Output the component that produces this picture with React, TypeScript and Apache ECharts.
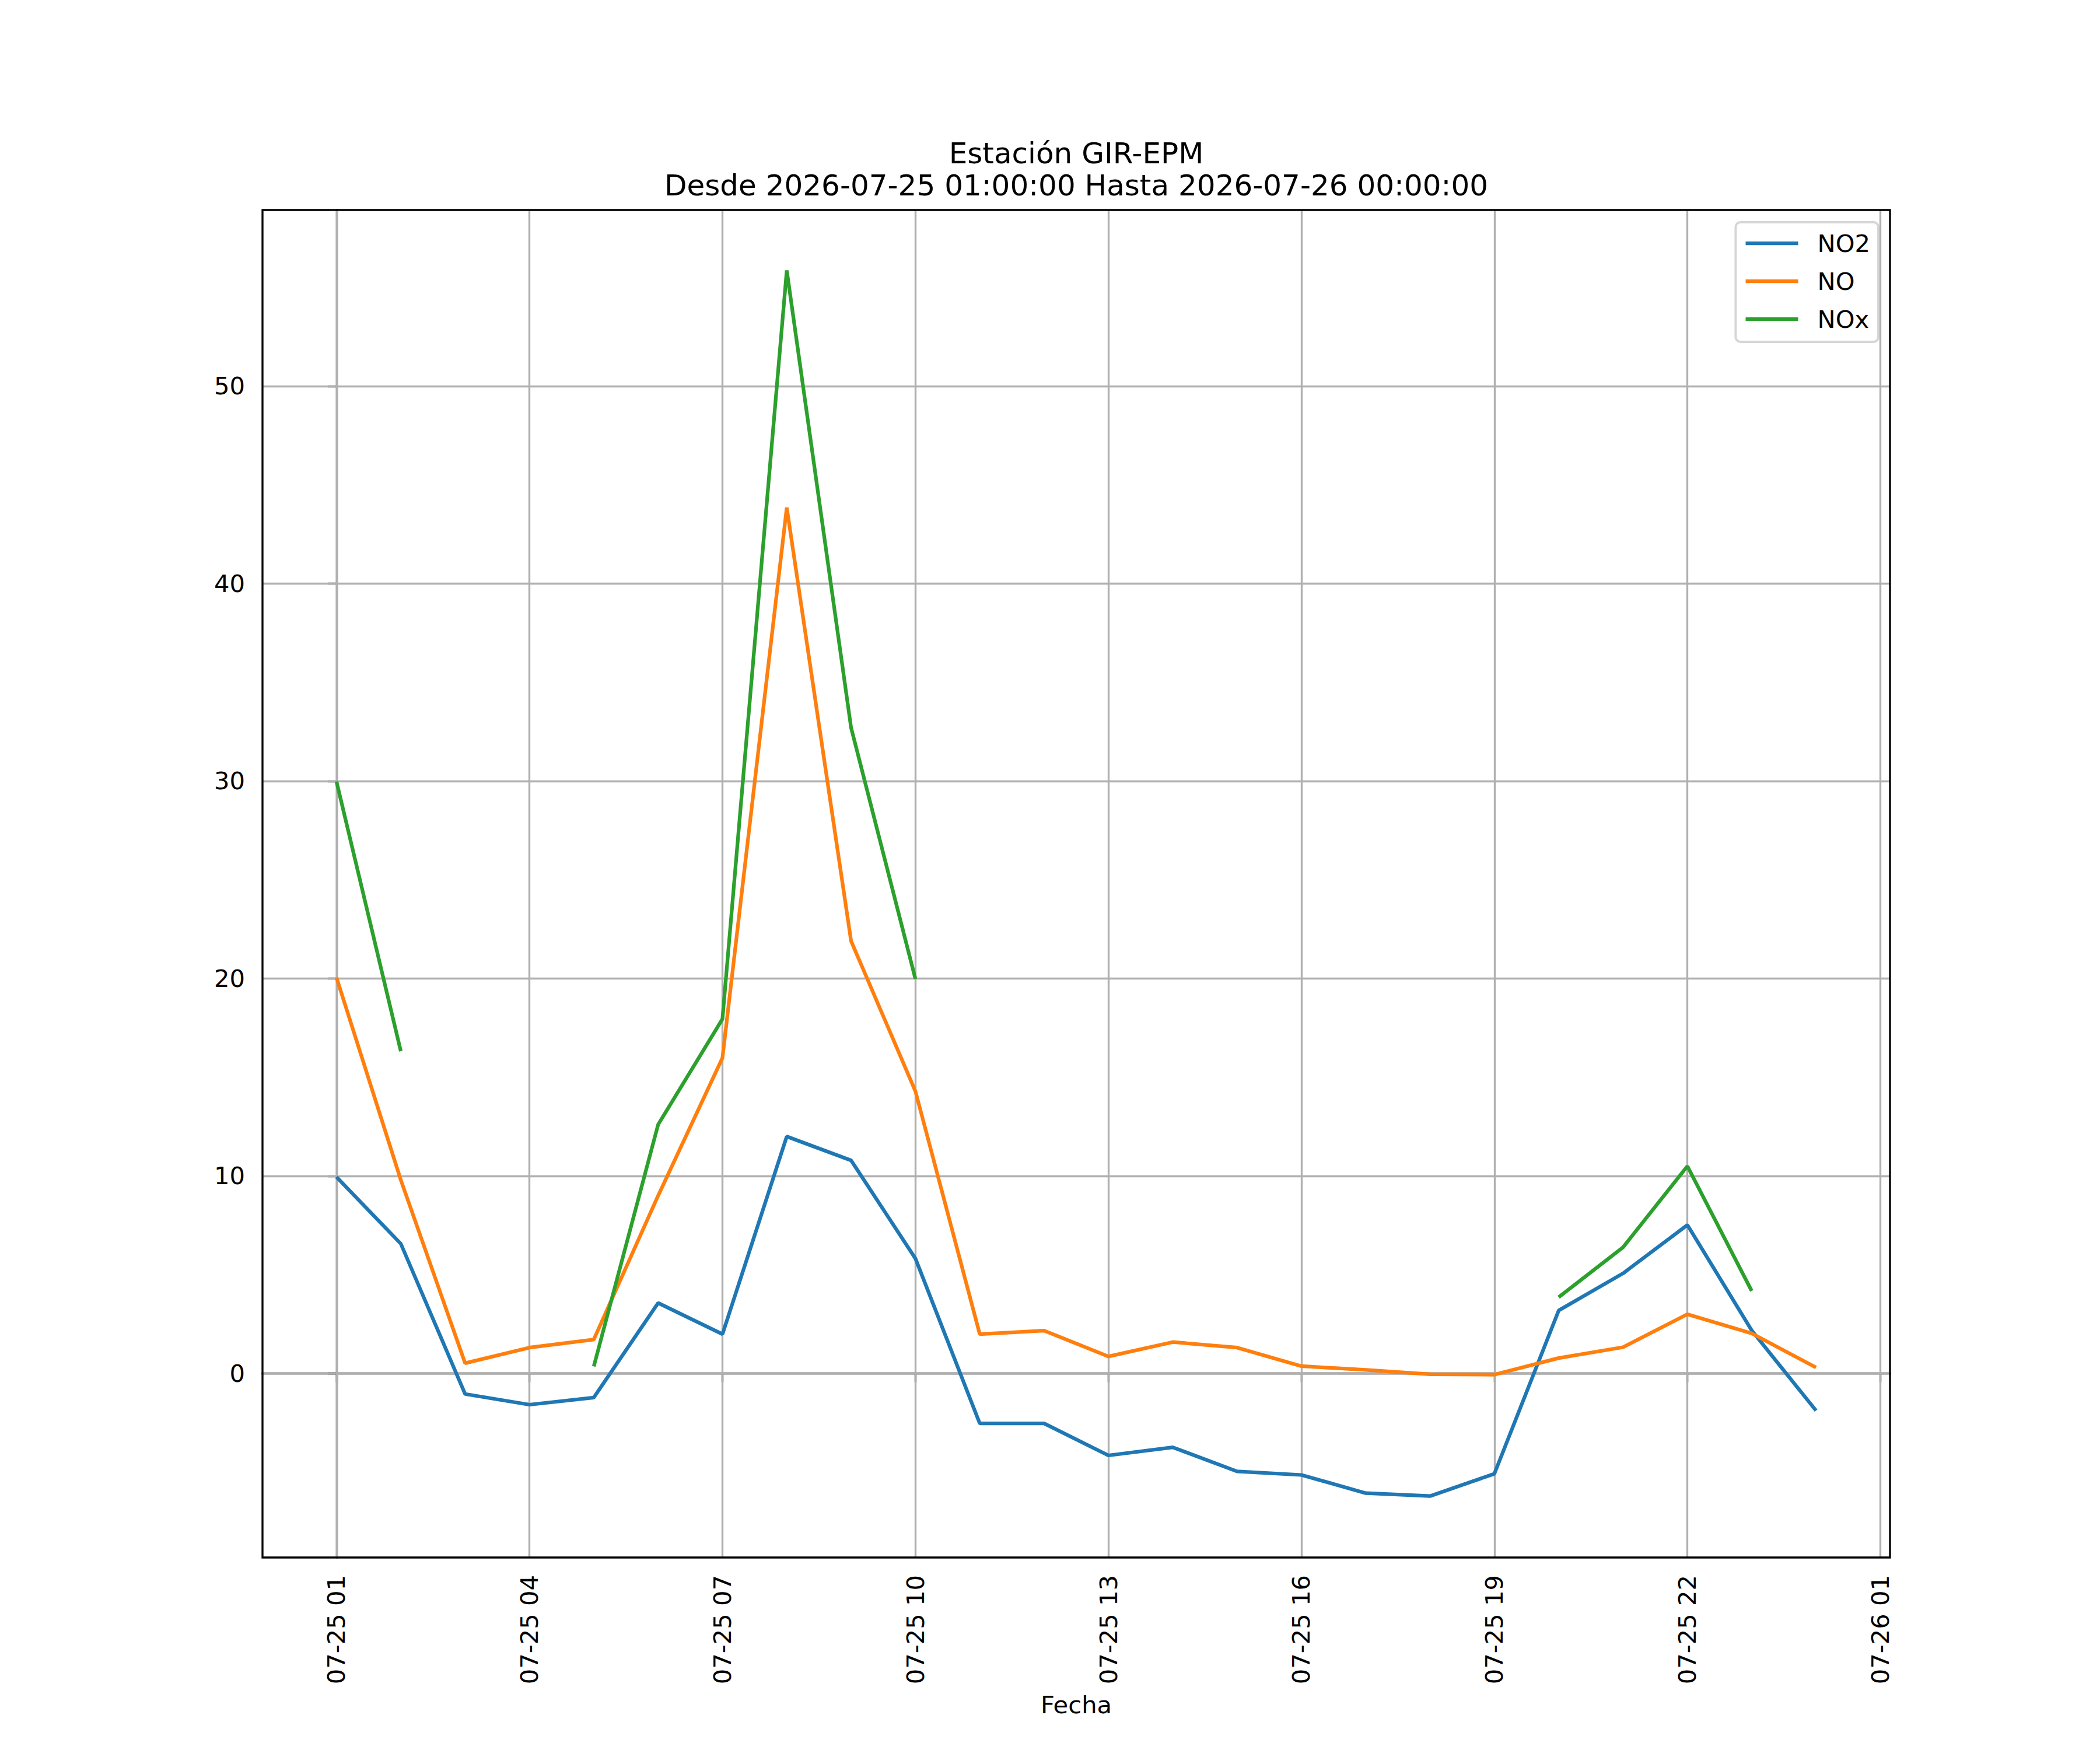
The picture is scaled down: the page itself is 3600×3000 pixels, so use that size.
import { useEffect, useRef } from 'react';
import * as echarts from 'echarts';

// hourly timestamps, 2026-07-25 01:00 .. 2026-07-26 00:00
const HOURS = [
  '07-25 01', '07-25 02', '07-25 03', '07-25 04', '07-25 05', '07-25 06',
  '07-25 07', '07-25 08', '07-25 09', '07-25 10', '07-25 11', '07-25 12',
  '07-25 13', '07-25 14', '07-25 15', '07-25 16', '07-25 17', '07-25 18',
  '07-25 19', '07-25 20', '07-25 21', '07-25 22', '07-25 23', '07-26 00',
];

const NO2 = [
  9.95, 6.57, -1.04, -1.58, -1.22, 3.57, 1.99, 12.0, 10.79, 5.82, -2.53, -2.53,
  -4.15, -3.74, -4.96, -5.14, -6.06, -6.21, -5.08, 3.19, 5.07, 7.52, 2.18, -1.88,
];
const NO = [
  20.05, 9.8, 0.52, 1.31, 1.72, 9.0, 15.98, 43.85, 21.9, 14.29, 1.99, 2.17,
  0.86, 1.59, 1.31, 0.37, 0.18, -0.04, -0.06, 0.78, 1.33, 3.0, 2.03, 0.3,
];
const NOX = [
  29.98, 16.32, null, null, 0.36, 12.6, 17.95, 55.86, 32.7, 19.98, null, null,
  null, null, null, null, null, null, null, 3.86, 6.39, 10.5, 4.18, null,
];

const X_TICKS = [0, 3, 6, 9, 12, 15, 18, 21, 24];
const X_TICK_LABELS = [
  '07-25 01', '07-25 04', '07-25 07', '07-25 10', '07-25 13',
  '07-25 16', '07-25 19', '07-25 22', '07-26 01',
];
const Y_TICKS = [0, 10, 20, 30, 40, 50];

const TITLE = 'Estación GIR-EPM';
const SUBTITLE = 'Desde 2026-07-25 01:00:00 Hasta 2026-07-26 00:00:00';

const FONT = 'DejaVu Sans';
const GRID_COLOR = '#b0b0b0';

const toPoints = (vals: (number | null)[]) => vals.map((v, i) => [i, v]);

export default function App() {
  const ref = useRef<HTMLDivElement>(null);

  useEffect(() => {
    document.body.style.margin = '0';
    if (!ref.current) return;
    const chart = echarts.init(ref.current, undefined, { renderer: 'svg' });

    const lineSeries = (name: string, vals: (number | null)[], color: string) => ({
      name,
      type: 'line',
      data: toPoints(vals),
      symbol: 'none',
      showSymbol: false,
      connectNulls: false,
      z: 3,
      lineStyle: { color, width: 6.25 },
      itemStyle: { color },
    });

    const centered = (text: string, x: number, y: number, size: number) => ({
      type: 'text',
      x,
      y,
      style: {
        text,
        font: `${size}px "${FONT}"`,
        fill: '#000000',
        align: 'center',
        verticalAlign: 'middle',
        textAlign: 'center',
        textVerticalAlign: 'middle',
      },
    });

    chart.setOption({
      animation: false,
      backgroundColor: '#ffffff',
      textStyle: { fontFamily: FONT },
      grid: {
        left: 450,
        top: 360,
        width: 2790,
        height: 2310,
        show: true,
        borderColor: '#000000',
        borderWidth: 3.33,
        backgroundColor: 'transparent',
        z: 4,
      },
      graphic: [
        centered(TITLE, 1845, 263, 50),
        centered(SUBTITLE, 1845, 318, 50),
        centered('Fecha', 1845, 2922, 41.67),
      ],
      legend: {
        orient: 'vertical',
        right: 380,
        top: 381,
        data: ['NO2', 'NO', 'NOx'],
        itemWidth: 90,
        itemHeight: 40,
        itemGap: 23,
        padding: [15, 14, 18, 14],
        backgroundColor: '#ffffff',
        borderColor: '#d6d6d6',
        borderWidth: 4,
        borderRadius: 8,
        itemStyle: { opacity: 0 },
        lineStyle: { width: 6.25 },
        textStyle: {
          fontFamily: FONT,
          fontSize: 41.67,
          color: '#000000',
          padding: [0, 0, 0, 28],
        },
      },
      xAxis: {
        type: 'value',
        min: -1.15,
        max: 24.15,
        axisLine: { show: true, lineStyle: { color: '#000000', width: 3.33 } },
        axisTick: {
          show: true,
          inside: false,
          length: 15,
          customValues: X_TICKS,
          lineStyle: { color: '#000000', width: 3.33 },
        },
        axisLabel: {
          show: true,
          rotate: 90,
          margin: 30,
          fontFamily: FONT,
          fontSize: 41.67,
          color: '#000000',
          customValues: X_TICKS,
          formatter: (v: number) => {
            const idx = X_TICKS.indexOf(Math.round(v));
            return idx >= 0 ? X_TICK_LABELS[idx] : '';
          },
        },
        splitLine: { show: false },
      },
      yAxis: {
        type: 'value',
        min: -9.32,
        max: 58.92,
        axisLine: { show: true, lineStyle: { color: '#000000', width: 3.33 } },
        axisTick: {
          show: true,
          inside: false,
          length: 15,
          customValues: Y_TICKS,
          lineStyle: { color: '#000000', width: 3.33 },
        },
        axisLabel: {
          show: true,
          margin: 30,
          fontFamily: FONT,
          fontSize: 41.67,
          color: '#000000',
          customValues: Y_TICKS,
        },
        splitLine: { show: false },
      },
      series: [
        {
          name: 'grid',
          type: 'line',
          data: [[0, 0]],
          symbol: 'none',
          showSymbol: false,
          silent: true,
          z: 1,
          lineStyle: { opacity: 0 },
          markLine: {
            silent: true,
            symbol: 'none',
            z: 1,
            label: { show: false },
            lineStyle: { color: GRID_COLOR, width: 3.33, type: 'solid' },
            emphasis: { disabled: true },
            data: [
              ...X_TICKS.map((v) => ({ xAxis: v })),
              ...Y_TICKS.map((v) => ({ yAxis: v })),
            ],
          },
        },
        lineSeries('NO2', NO2, '#1f77b4'),
        lineSeries('NO', NO, '#ff7f0e'),
        lineSeries('NOx', NOX, '#2ca02c'),
      ],
    });

    return () => {
      chart.dispose();
    };
  }, []);

  return <div ref={ref} style={{ width: 3600, height: 3000 }} data-hours={HOURS.length} />;
}
